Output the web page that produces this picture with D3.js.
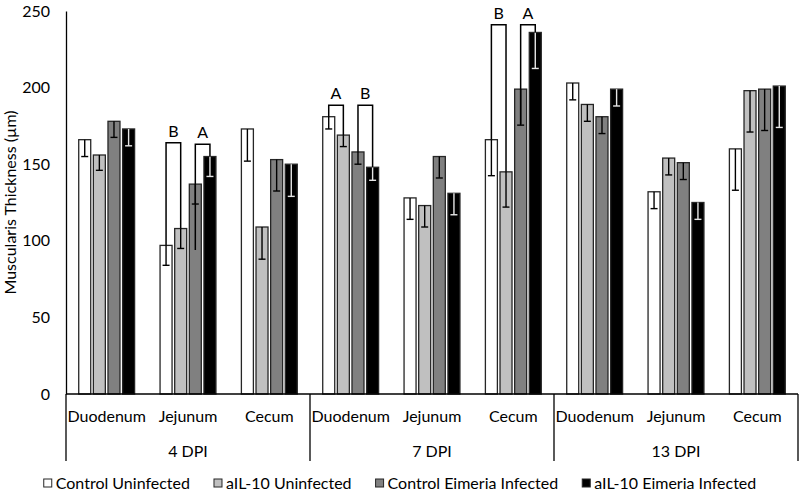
<!DOCTYPE html>
<html>
<head>
<meta charset="utf-8">
<script src="https://cdn.jsdelivr.net/npm/d3@7"></script>
<style>
  html, body { margin: 0; padding: 0; background: #fff; }
  svg { display: block; font-family: Lato, "Open Sans", sans-serif; }
</style>
</head>
<body>
<svg id="chart" width="800" height="493"></svg>
<script>
// ---- data ----
const groups = ["4 DPI", "7 DPI", "13 DPI"];
const tissues = ["Duodenum", "Jejunum", "Cecum"];
const seriesNames = ["Control Uninfected", "aIL-10 Uninfected", "Control Eimeria Infected", "aIL-10 Eimeria Infected"];
const seriesColors = ["#ffffff", "#c0c0c0", "#808080", "#000000"];
const errColors = ["#000000", "#000000", "#000000", "#e6e6e6"];
const yTicks = [0, 50, 100, 150, 200, 250];
const yTitle = "Muscularis Thickness (µm)";

// values by category (4D, 4J, 4C, 7D, 7J, 7C, 13D, 13J, 13C)
const controlUninfected = [166, 97, 173, 181, 128, 166, 203, 132, 160];
const aIL10Uninfected   = [156, 108, 109, 169, 123, 145, 189, 154, 198];
const controlInfected   = [178, 137, 153, 158, 155, 199, 181, 151, 199];
const aIL10Infected     = [173, 155, 150, 148, 131, 236, 199, 125, 201];

const controlUninfectedErr = [11, 13, 21, 8, 14, 23.5, 11, 11, 27];
const aIL10UninfectedErr   = [10, 13, 21, 7.5, 14, 23, 11, 11, 27];
const controlInfectedErr   = [10.5, 13, 20.5, 8, 14, 23.5, 11, 11, 27];
const aIL10InfectedErr     = [11, 13, 21, 8.5, 14, 23.5, 11, 11, 27];

// significance brackets: category index, series pair, top value, leg end values, label
const brackets = [
  { cat: 1, a: 0, b: 1, top: 164, endA: 97, endB: 108, label: "B" },
  { cat: 1, a: 2, b: 3, top: 163, endA: 94, endB: 155, label: "A" },
  { cat: 3, a: 0, b: 1, top: 188.5, endA: 181, endB: 169, label: "A" },
  { cat: 3, a: 2, b: 3, top: 188.5, endA: 158, endB: 148, label: "B" },
  { cat: 5, a: 0, b: 1, top: 241, endA: 166, endB: 145, label: "B" },
  { cat: 5, a: 2, b: 3, top: 241, endA: 176, endB: 236, label: "A" }
];

(function () {
const values = [controlUninfected, aIL10Uninfected, controlInfected, aIL10Infected];
const errors = [controlUninfectedErr, aIL10UninfectedErr, controlInfectedErr, aIL10InfectedErr];
const categories = [];
groups.forEach(g => tissues.forEach(t => categories.push(g + "|" + t)));

const svg = d3.select("#chart");
const pLeft = 66, pRight = 798, pTop = 11, pBottom = 394;

const x0 = d3.scaleBand().domain(categories).range([pLeft, pRight]).padding(0);
const x1 = d3.scaleBand().domain(d3.range(4)).range([0, x0.bandwidth()])
  .paddingInner(0.18).paddingOuter(0.87);
const y = d3.scaleLinear().domain([0, 250]).range([pBottom, pTop]);

// y axis
const yAxis = svg.append("g").attr("transform", `translate(${pLeft},0)`)
  .call(d3.axisLeft(y).tickValues(yTicks).tickSize(0).tickPadding(16));
yAxis.select(".domain").attr("stroke", "#000").attr("stroke-width", 1.3);
yAxis.selectAll("text").attr("font-size", 16).attr("fill", "#000")
  .attr("font-family", "Lato, sans-serif");

svg.append("text")
  .attr("transform", `translate(16,${(pTop + pBottom) / 2}) rotate(-90)`)
  .attr("text-anchor", "middle").attr("font-size", 16).attr("fill", "#000")
  .text(yTitle);

// bars
const barData = [];
categories.forEach((c, ci) => {
  for (let s = 0; s < 4; s++) barData.push({ c, ci, s, v: values[s][ci], e: errors[s][ci] });
});

svg.append("g").selectAll("rect").data(barData).join("rect")
  .attr("x", d => x0(d.c) + x1(d.s))
  .attr("y", d => y(d.v))
  .attr("width", x1.bandwidth())
  .attr("height", d => y(0) - y(d.v))
  .attr("fill", d => seriesColors[d.s])
  .attr("stroke", "#262626").attr("stroke-width", 1.3);

// error bars (minus only)
const eb = svg.append("g").selectAll("g").data(barData).join("g")
  .attr("stroke", d => errColors[d.s]).attr("stroke-width", 1.4);
eb.append("line")
  .attr("x1", d => x0(d.c) + x1(d.s) + x1.bandwidth() / 2)
  .attr("x2", d => x0(d.c) + x1(d.s) + x1.bandwidth() / 2)
  .attr("y1", d => y(d.v)).attr("y2", d => y(d.v - d.e));
eb.append("line")
  .attr("x1", d => x0(d.c) + x1(d.s) + x1.bandwidth() / 2 - 3.5)
  .attr("x2", d => x0(d.c) + x1(d.s) + x1.bandwidth() / 2 + 3.5)
  .attr("y1", d => y(d.v - d.e)).attr("y2", d => y(d.v - d.e));

// brackets
const bg = svg.append("g").selectAll("g").data(brackets).join("g");
const cx = (ci, s) => x0(categories[ci]) + x1(s) + x1.bandwidth() / 2;
bg.append("path")
  .attr("fill", "none").attr("stroke", "#000").attr("stroke-width", 1.5)
  .attr("d", d => `M${cx(d.cat, d.a)},${y(d.endA)}V${y(d.top)}H${cx(d.cat, d.b)}V${y(d.endB)}`);
bg.append("text")
  .attr("x", d => (cx(d.cat, d.a) + cx(d.cat, d.b)) / 2)
  .attr("y", d => y(d.top) - 6)
  .attr("text-anchor", "middle").attr("font-size", 16).attr("fill", "#000")
  .text(d => d.label);

// x axis (multi-level)
svg.append("line").attr("x1", pLeft).attr("x2", pRight).attr("y1", pBottom).attr("y2", pBottom)
  .attr("stroke", "#000").attr("stroke-width", 1.3);
svg.append("g").selectAll("text").data(categories).join("text")
  .attr("x", d => x0(d) + x0.bandwidth() / 2)
  .attr("y", 422)
  .attr("text-anchor", "middle").attr("font-size", 16).attr("fill", "#000")
  .text(d => d.split("|")[1]);

const dividers = d3.range(groups.length + 1).map(i => i === groups.length ? pRight : x0(categories[i * tissues.length]));
svg.append("g").selectAll("line").data(dividers).join("line")
  .attr("x1", d => d).attr("x2", d => d).attr("y1", pBottom).attr("y2", 461)
  .attr("stroke", "#000").attr("stroke-width", 1.3);
svg.append("g").selectAll("text").data(groups).join("text")
  .attr("x", (d, i) => (dividers[i] + dividers[i + 1]) / 2)
  .attr("y", 457)
  .attr("text-anchor", "middle").attr("font-size", 16).attr("fill", "#000")
  .text(d => d);

// legend
const lg = svg.append("g");
const items = lg.selectAll("g").data(seriesNames).join("g");
items.append("rect").attr("width", 8).attr("height", 8).attr("y", -4)
  .attr("fill", (d, i) => seriesColors[i]).attr("stroke", "#262626").attr("stroke-width", 1);
items.append("text").attr("x", 12).attr("y", 5.5).attr("font-size", 16).attr("fill", "#000").text(d => d);
let pos = 0;
items.each(function () {
  const w = this.querySelector("text").getComputedTextLength() + 12;
  d3.select(this).attr("transform", `translate(${pos},0)`);
  pos += w + 24;
});
const total = pos - 24;
lg.attr("transform", `translate(${(800 - total) / 2},483)`);
})();
</script>
</body>
</html>
